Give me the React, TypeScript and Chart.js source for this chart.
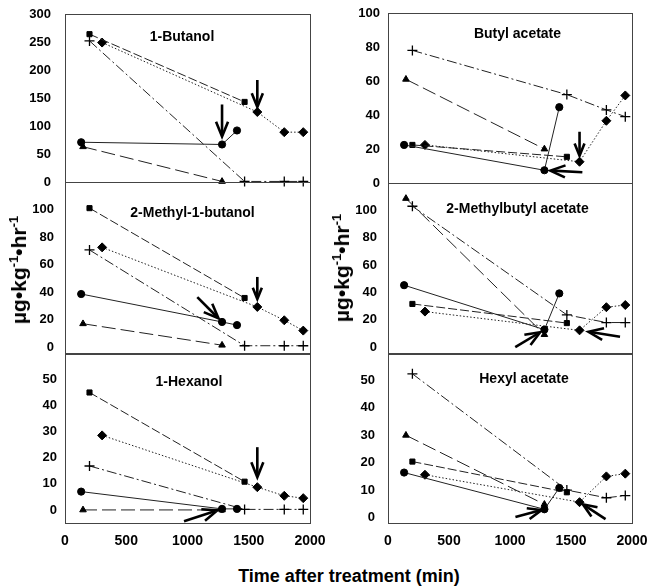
import React, { useEffect, useRef } from 'react';
import { Chart, registerables } from 'chart.js';

Chart.register(...registerables);

// ---- sampling times (min) for each marker series ----
const timesCircle = [132, 1282, 1404];
const timesTriangle = [147, 1282];
const timesSquare = [200, 1466];
const timesDiamond = [303, 1570, 1790, 1945];
const timesPlus = [200, 1466, 1790, 1945];

// ---- tick labels ----
const timeTicks = [0, 500, 1000, 1500, 2000];
const ticks300 = [0, 50, 100, 150, 200, 250, 300];
const ticks100 = [0, 20, 40, 60, 80, 100];
const ticks50 = [0, 10, 20, 30, 40, 50];

// ---- 1-Butanol ----
const butanolCircle = [71, 67, 92];
const butanolTriangle = [63, 1];
const butanolSquare = [264, 143];
const butanolDiamond = [249, 125, 89, 89];
const butanolPlus = [252, 1, 1, 1];

// ---- 2-Methyl-1-butanol ----
const methylbutanolCircle = [38.6, 18.3, 16];
const methylbutanolTriangle = [17, 1.4];
const methylbutanolSquare = [101, 35.7];
const methylbutanolDiamond = [72.5, 29.2, 19.5, 12];
const methylbutanolPlus = [70.6, 1, 1, 1];

// ---- 1-Hexanol ----
const hexanolCircle = [7, 0.4, 0.4];
const hexanolTriangle = [0, 0];
const hexanolSquare = [44.9, 10.8];
const hexanolDiamond = [28.5, 8.7, 5.4, 4.5];
const hexanolPlus = [16.8, 0.2, 0.2, 0.2];

// ---- Butyl acetate ----
const butylCircle = [22.4, 7.5, 44.6];
const butylTriangle = [61, 20];
const butylSquare = [22.4, 15.4];
const butylDiamond = [22.4, 12.5, 36.6, 51.5];
const butylPlus = [78, 52, 43, 39];

// ---- 2-Methylbutyl acetate ----
const methylbutylCircle = [45.3, 12.8, 39.3];
const methylbutylTriangle = [108.7, 9.2];
const methylbutylSquare = [31.6, 17.6];
const methylbutylDiamond = [26, 12.3, 29.2, 30.8];
const methylbutylPlus = [103, 23.6, 18, 18];

// ---- Hexyl acetate ----
const hexylCircle = [16.4, 3, 10.8];
const hexylTriangle = [30, 4.8];
const hexylSquare = [20.4, 9.2];
const hexylDiamond = [15.6, 5.6, 15, 16];
const hexylPlus = [52.4, 10, 7.2, 8];

const FONT = '"Liberation Sans", Arial, Helvetica, sans-serif';
const LINE = '#222';

// dataset index: 0 circle, 1 triangle, 2 square, 3 diamond, 4 plus
const seriesStyles = [
  { times: timesCircle, pointStyle: 'circle', radius: 3.6, dash: [] as number[], bw: 1 },
  { times: timesTriangle, pointStyle: 'triangle', radius: 3.8, dash: [14, 5], bw: 1 },
  { times: timesSquare, pointStyle: 'rect', radius: 3.6, dash: [9, 3], bw: 1 },
  { times: timesDiamond, pointStyle: 'rectRot', radius: 4.5, dash: [1.5, 2], bw: 1 },
  { times: timesPlus, pointStyle: 'cross', radius: 5, dash: [10, 3, 2, 3], bw: 1 },
];

type Arrow = { ds: number; index: number; angle: number; gap: number; length: number };

interface PanelCfg {
  title: string;
  titleDX: number;
  titleDY: number;
  left: number;
  top: number;
  width: number;
  height: number;
  padTop: number;
  padRight: number;
  padBottom: number;
  yAxisW: number;
  yMin: number;
  yMax: number;
  yTicks: number[];
  yPad: number;
  showX: boolean;
  values: number[][];
  arrows: Arrow[];
}

const panels: PanelCfg[] = [
  {
    title: '1-Butanol', titleDX: 117, titleDY: 23,
    left: 0, top: 4, width: 330, height: 188, padTop: 10, padRight: 20, padBottom: 10,
    yAxisW: 65, yMin: 0, yMax: 300, yTicks: ticks300, yPad: 14, showX: false,
    values: [butanolCircle, butanolTriangle, butanolSquare, butanolDiamond, butanolPlus],
    arrows: [
      { ds: 0, index: 1, angle: 90, gap: 8, length: 32 },
      { ds: 3, index: 1, angle: 90, gap: 5, length: 27 },
    ],
  },
  {
    title: '2-Methyl-1-butanol', titleDX: 127.5, titleDY: 31,
    left: 0, top: 172, width: 330, height: 192, padTop: 10, padRight: 20, padBottom: 10,
    yAxisW: 65, yMin: -5, yMax: 120, yTicks: ticks100, yPad: 11, showX: false,
    values: [methylbutanolCircle, methylbutanolTriangle, methylbutanolSquare, methylbutanolDiamond, methylbutanolPlus],
    arrows: [
      { ds: 3, index: 1, angle: 90, gap: 8, length: 22 },
      { ds: 0, index: 1, angle: 45, gap: 5, length: 30 },
    ],
  },
  {
    title: '1-Hexanol', titleDX: 124, titleDY: 29,
    left: 0, top: 343, width: 330, height: 210, padTop: 10, padRight: 20, padBottom: 0,
    yAxisW: 65, yMin: -5, yMax: 60, yTicks: ticks50, yPad: 8, showX: true,
    values: [hexanolCircle, hexanolTriangle, hexanolSquare, hexanolDiamond, hexanolPlus],
    arrows: [
      { ds: 3, index: 1, angle: 90, gap: 10, length: 30 },
      { ds: 0, index: 1, angle: -18, gap: 5, length: 35 },
    ],
  },
  {
    title: 'Butyl acetate', titleDX: 129.5, titleDY: 21,
    left: 320, top: 3, width: 329, height: 190, padTop: 10, padRight: 17, padBottom: 10,
    yAxisW: 68, yMin: 0, yMax: 100, yTicks: ticks100, yPad: 8, showX: false,
    values: [butylCircle, butylTriangle, butylSquare, butylDiamond, butylPlus],
    arrows: [
      { ds: 3, index: 1, angle: 90, gap: 6, length: 24 },
      { ds: 0, index: 1, angle: 183, gap: 6, length: 32 },
    ],
  },
  {
    title: '2-Methylbutyl acetate', titleDX: 129.5, titleDY: 26,
    left: 320, top: 173, width: 329, height: 191, padTop: 10, padRight: 17, padBottom: 10,
    yAxisW: 68, yMin: -5, yMax: 120, yTicks: ticks100, yPad: 11, showX: false,
    values: [methylbutylCircle, methylbutylTriangle, methylbutylSquare, methylbutylDiamond, methylbutylPlus],
    arrows: [
      { ds: 3, index: 1, angle: 189, gap: 9, length: 32 },
      { ds: 0, index: 1, angle: -31, gap: 5, length: 29 },
    ],
  },
  {
    title: 'Hexyl acetate', titleDX: 136, titleDY: 26,
    left: 320, top: 343, width: 329, height: 210, padTop: 10, padRight: 17, padBottom: 0,
    yAxisW: 68, yMin: -2, yMax: 60, yTicks: ticks50, yPad: 13, showX: true,
    values: [hexylCircle, hexylTriangle, hexylSquare, hexylDiamond, hexylPlus],
    arrows: [
      { ds: 0, index: 1, angle: -15, gap: 3, length: 27 },
      { ds: 3, index: 1, angle: 213, gap: 4, length: 27 },
    ],
  },
];

const framePlugin = {
  id: 'frame',
  afterDraw(chart: any) {
    const { ctx, chartArea: a } = chart;
    ctx.save();
    ctx.strokeStyle = '#444';
    ctx.lineWidth = 1;
    ctx.strokeRect(Math.round(a.left) + 0.5, Math.round(a.top) + 0.5, Math.round(a.right - a.left), Math.round(a.bottom - a.top));
    ctx.restore();
  },
};

const panelTitlePlugin = {
  id: 'panelTitle',
  afterDraw(chart: any, _args: any, opts: any) {
    const { ctx, chartArea: a } = chart;
    ctx.save();
    ctx.font = `bold 14px ${FONT}`;
    ctx.fillStyle = '#000';
    ctx.textAlign = 'center';
    ctx.textBaseline = 'middle';
    ctx.fillText(opts.text, a.left + opts.dx, a.top + opts.dy);
    ctx.restore();
  },
};

const arrowPlugin = {
  id: 'arrows',
  afterDraw(chart: any, _args: any, opts: any) {
    const ctx = chart.ctx;
    const list: Arrow[] = opts.list || [];
    ctx.save();
    ctx.strokeStyle = '#000';
    ctx.lineWidth = 2.6;
    ctx.lineCap = 'butt';
    ctx.lineJoin = 'miter';
    for (const a of list) {
      const el = chart.getDatasetMeta(a.ds).data[a.index];
      if (!el) continue;
      const rad = (a.angle * Math.PI) / 180;
      const dx = Math.cos(rad);
      const dy = Math.sin(rad);
      const tipX = el.x - dx * a.gap;
      const tipY = el.y - dy * a.gap;
      const tailX = tipX - dx * a.length;
      const tailY = tipY - dy * a.length;
      ctx.beginPath();
      ctx.moveTo(tailX, tailY);
      ctx.lineTo(tipX - dx * 2, tipY - dy * 2);
      ctx.stroke();
      const head = Math.min(16, a.length * 0.55);
      const ha = (22 * Math.PI) / 180;
      ctx.beginPath();
      ctx.moveTo(tipX - head * Math.cos(rad - ha), tipY - head * Math.sin(rad - ha));
      ctx.lineTo(tipX, tipY);
      ctx.lineTo(tipX - head * Math.cos(rad + ha), tipY - head * Math.sin(rad + ha));
      ctx.stroke();
    }
    ctx.restore();
  },
};

function Panel({ cfg }: { cfg: PanelCfg }) {
  const ref = useRef<HTMLCanvasElement>(null);
  useEffect(() => {
    if (!ref.current) return;
    const datasets = seriesStyles.map((s, i) => ({
      data: s.times.map((t, k) => ({ x: t, y: cfg.values[i][k] })),
      showLine: true,
      borderColor: LINE,
      borderWidth: s.bw,
      borderDash: s.dash,
      pointStyle: s.pointStyle,
      pointRadius: s.radius,
      pointBackgroundColor: '#000',
      pointBorderColor: '#000',
      pointBorderWidth: i === 4 ? 1.3 : 1,
      tension: 0,
      fill: false,
      clip: false as any,
    }));
    const chart = new Chart(ref.current, {
      type: 'scatter',
      data: { datasets: datasets as any },
      options: {
        animation: false,
        responsive: false,
        maintainAspectRatio: false,
        devicePixelRatio: 1,
        layout: { padding: { top: cfg.padTop, right: cfg.padRight, bottom: cfg.padBottom, left: 0 } },
        plugins: {
          legend: { display: false },
          tooltip: { enabled: false },
          panelTitle: { text: cfg.title, dx: cfg.titleDX, dy: cfg.titleDY },
          arrows: { list: cfg.arrows },
        } as any,
        scales: {
          x: {
            type: 'linear',
            min: 0,
            max: 2000,
            display: cfg.showX,
            grid: { display: false, drawTicks: true, tickLength: 10 },
            border: { display: false },
            ticks: {
              font: { family: FONT, size: 14, weight: 'bold' as any },
              color: '#000',
              padding: 0,
              maxRotation: 0,
              autoSkip: false,
              callback: (v: any) => String(v),
            },
            afterBuildTicks: (s: any) => {
              s.ticks = timeTicks.map((v) => ({ value: v }));
            },
            afterFit: (s: any) => {
              s.height = cfg.showX ? 30 : 0;
            },
          },
          y: {
            type: 'linear',
            min: cfg.yMin,
            max: cfg.yMax,
            grid: { display: false, drawTicks: true, tickLength: cfg.yPad },
            border: { display: false },
            ticks: {
              font: { family: FONT, size: 13, weight: 'bold' as any },
              color: '#000',
              padding: 0,
              autoSkip: false,
              callback: (v: any) => String(v),
            },
            afterBuildTicks: (s: any) => {
              s.ticks = cfg.yTicks.map((v) => ({ value: v }));
            },
            afterFit: (s: any) => {
              s.width = cfg.yAxisW;
            },
          },
        },
      },
      plugins: [framePlugin, panelTitlePlugin, arrowPlugin],
    });
    return () => chart.destroy();
  }, [cfg]);
  return (
    <canvas
      ref={ref}
      width={cfg.width}
      height={cfg.height}
      style={{ position: 'absolute', left: cfg.left, top: cfg.top, width: cfg.width, height: cfg.height }}
    />
  );
}

const yTitleStyle: React.CSSProperties = {
  position: 'absolute',
  transform: 'translate(-50%, -50%) rotate(-90deg)',
  whiteSpace: 'nowrap',
  font: `bold 21px ${FONT}`,
  color: '#000',
  lineHeight: 1,
};

function YTitle({ x, y }: { x: number; y: number }) {
  return (
    <div style={{ ...yTitleStyle, left: x, top: y }}>
      µg•kg<sup style={{ fontSize: 13 }}>-1</sup>•hr<sup style={{ fontSize: 13 }}>-1</sup>
    </div>
  );
}

export default function App() {
  return (
    <div style={{ position: 'absolute', left: 0, top: 0, width: 649, height: 587, background: '#fff', overflow: 'hidden' }}>
      {panels.map((p) => (
        <Panel key={p.title} cfg={p} />
      ))}
      <YTitle x={18} y={270} />
      <YTitle x={341} y={268} />
      <div
        style={{
          position: 'absolute',
          left: 349,
          top: 576,
          transform: 'translate(-50%, -50%)',
          whiteSpace: 'nowrap',
          font: `bold 18px ${FONT}`,
          color: '#000',
        }}
      >
        Time after treatment (min)
      </div>
    </div>
  );
}
